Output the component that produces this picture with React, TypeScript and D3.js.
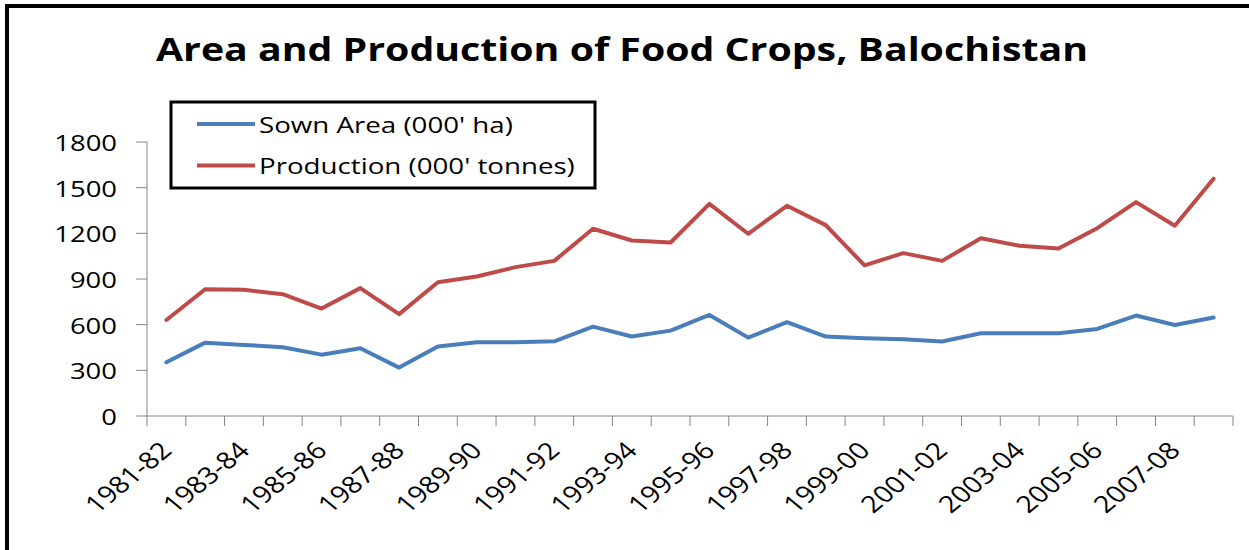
import React from "react";
import * as d3 from "d3";

// Food crops in Balochistan, 1981-82 to 2008-09
const seasons = [
  "1981-82", "1982-83", "1983-84", "1984-85", "1985-86", "1986-87", "1987-88",
  "1988-89", "1989-90", "1990-91", "1991-92", "1992-93", "1993-94", "1994-95",
  "1995-96", "1996-97", "1997-98", "1998-99", "1999-00", "2000-01", "2001-02",
  "2002-03", "2003-04", "2004-05", "2005-06", "2006-07", "2007-08", "2008-09",
];
const sownArea = [
  353, 482, 467, 452, 403, 445, 318, 456, 485, 485, 491, 587, 522, 561,
  664, 515, 616, 522, 511, 504, 489, 544, 544, 544, 572, 660, 598, 647,
];
const production = [
  631, 833, 829, 800, 706, 840, 669, 879, 916, 978, 1019, 1230, 1153, 1140,
  1394, 1197, 1381, 1254, 989, 1070, 1019, 1168, 1118, 1100, 1234, 1405, 1250, 1559,
];
const yTicks = [0, 300, 600, 900, 1200, 1500, 1800];
const seriesNames = ["Sown Area (000' ha)", "Production (000' tonnes)"];
const seriesColors = ["#4A7EBB", "#BE4B48"];

const W = 1249;
const H = 550;
const plot = { left: 147, right: 1233, top: 142, bottom: 416 };
const SX = 1.22; // horizontal text stretch
const FONT = "'Open Sans', 'DejaVu Sans', sans-serif";

export default function App() {
  const x = d3.scaleBand<string>().domain(seasons).range([plot.left, plot.right]).padding(0);
  const y = d3.scaleLinear().domain([0, 1800]).range([plot.bottom, plot.top]);
  const cx = (s: string) => (x(s) as number) + x.bandwidth() / 2;

  const line = d3
    .line<number>()
    .x((_, i) => cx(seasons[i]))
    .y((v) => y(v));

  const series = [sownArea, production];
  const boundaries = seasons.map((s) => x(s) as number).concat([plot.right]);

  return (
    <svg
      width={W}
      height={H}
      style={{ position: "absolute", left: 0, top: 0, background: "#fff" }}
      fontFamily={FONT}
    >
      <rect x={0} y={0} width={W} height={H} fill="#fff" />
      {/* outer frame */}
      <rect x={7} y={6} width={W + 20} height={H + 20} fill="none" stroke="#000" strokeWidth={4} />

      {/* title */}
      <text
        transform={`translate(622,61) scale(${SX},1)`}
        textAnchor="middle"
        fontSize={32.2}
        fontWeight="bold"
        fill="#000"
      >
        Area and Production of Food Crops, Balochistan
      </text>

      {/* y axis */}
      <line x1={plot.left} x2={plot.left} y1={plot.top} y2={plot.bottom} stroke="#868686" strokeWidth={1} />
      {yTicks.map((t) => (
        <g key={t}>
          <line x1={plot.left - 11} x2={plot.left} y1={y(t)} y2={y(t)} stroke="#868686" strokeWidth={1} />
          <text
            transform={`translate(117,${y(t)}) scale(${SX},1)`}
            textAnchor="end"
            dominantBaseline="central"
            fontSize={22.5}
            fill="#000"
          >
            {t}
          </text>
        </g>
      ))}

      {/* x axis */}
      <line x1={plot.left} x2={plot.right} y1={plot.bottom} y2={plot.bottom} stroke="#868686" strokeWidth={1} />
      {boundaries.map((b, i) => (
        <line key={i} x1={b} x2={b} y1={plot.bottom} y2={plot.bottom + 10} stroke="#868686" strokeWidth={1} />
      ))}
      {seasons.map((s, i) =>
        i % 2 === 0 ? (
          <text
            key={s}
            transform={`translate(${cx(s) + 7},452) scale(${SX},1) rotate(-45)`}
            textAnchor="end"
            fontSize={23.5}
            fill="#000"
          >
            {s}
          </text>
        ) : null
      )}

      {/* series lines */}
      {series.map((vals, k) => (
        <path
          key={k}
          d={line(vals) || ""}
          fill="none"
          stroke={seriesColors[k]}
          strokeWidth={4}
          strokeLinejoin="round"
          strokeLinecap="round"
        />
      ))}

      {/* legend */}
      <rect x={171} y={102} width={424} height={86} fill="#fff" stroke="#000" strokeWidth={3} />
      {seriesNames.map((name, k) => {
        const ly = k === 0 ? 124 : 165.5;
        return (
          <g key={name}>
            <line x1={197} x2={255} y1={ly} y2={ly} stroke={seriesColors[k]} strokeWidth={4} />
            <text
              transform={`translate(259,${ly}) scale(${SX},1)`}
              dominantBaseline="central"
              fontSize={22.7}
              fill="#000"
            >
              {name}
            </text>
          </g>
        );
      })}
    </svg>
  );
}
